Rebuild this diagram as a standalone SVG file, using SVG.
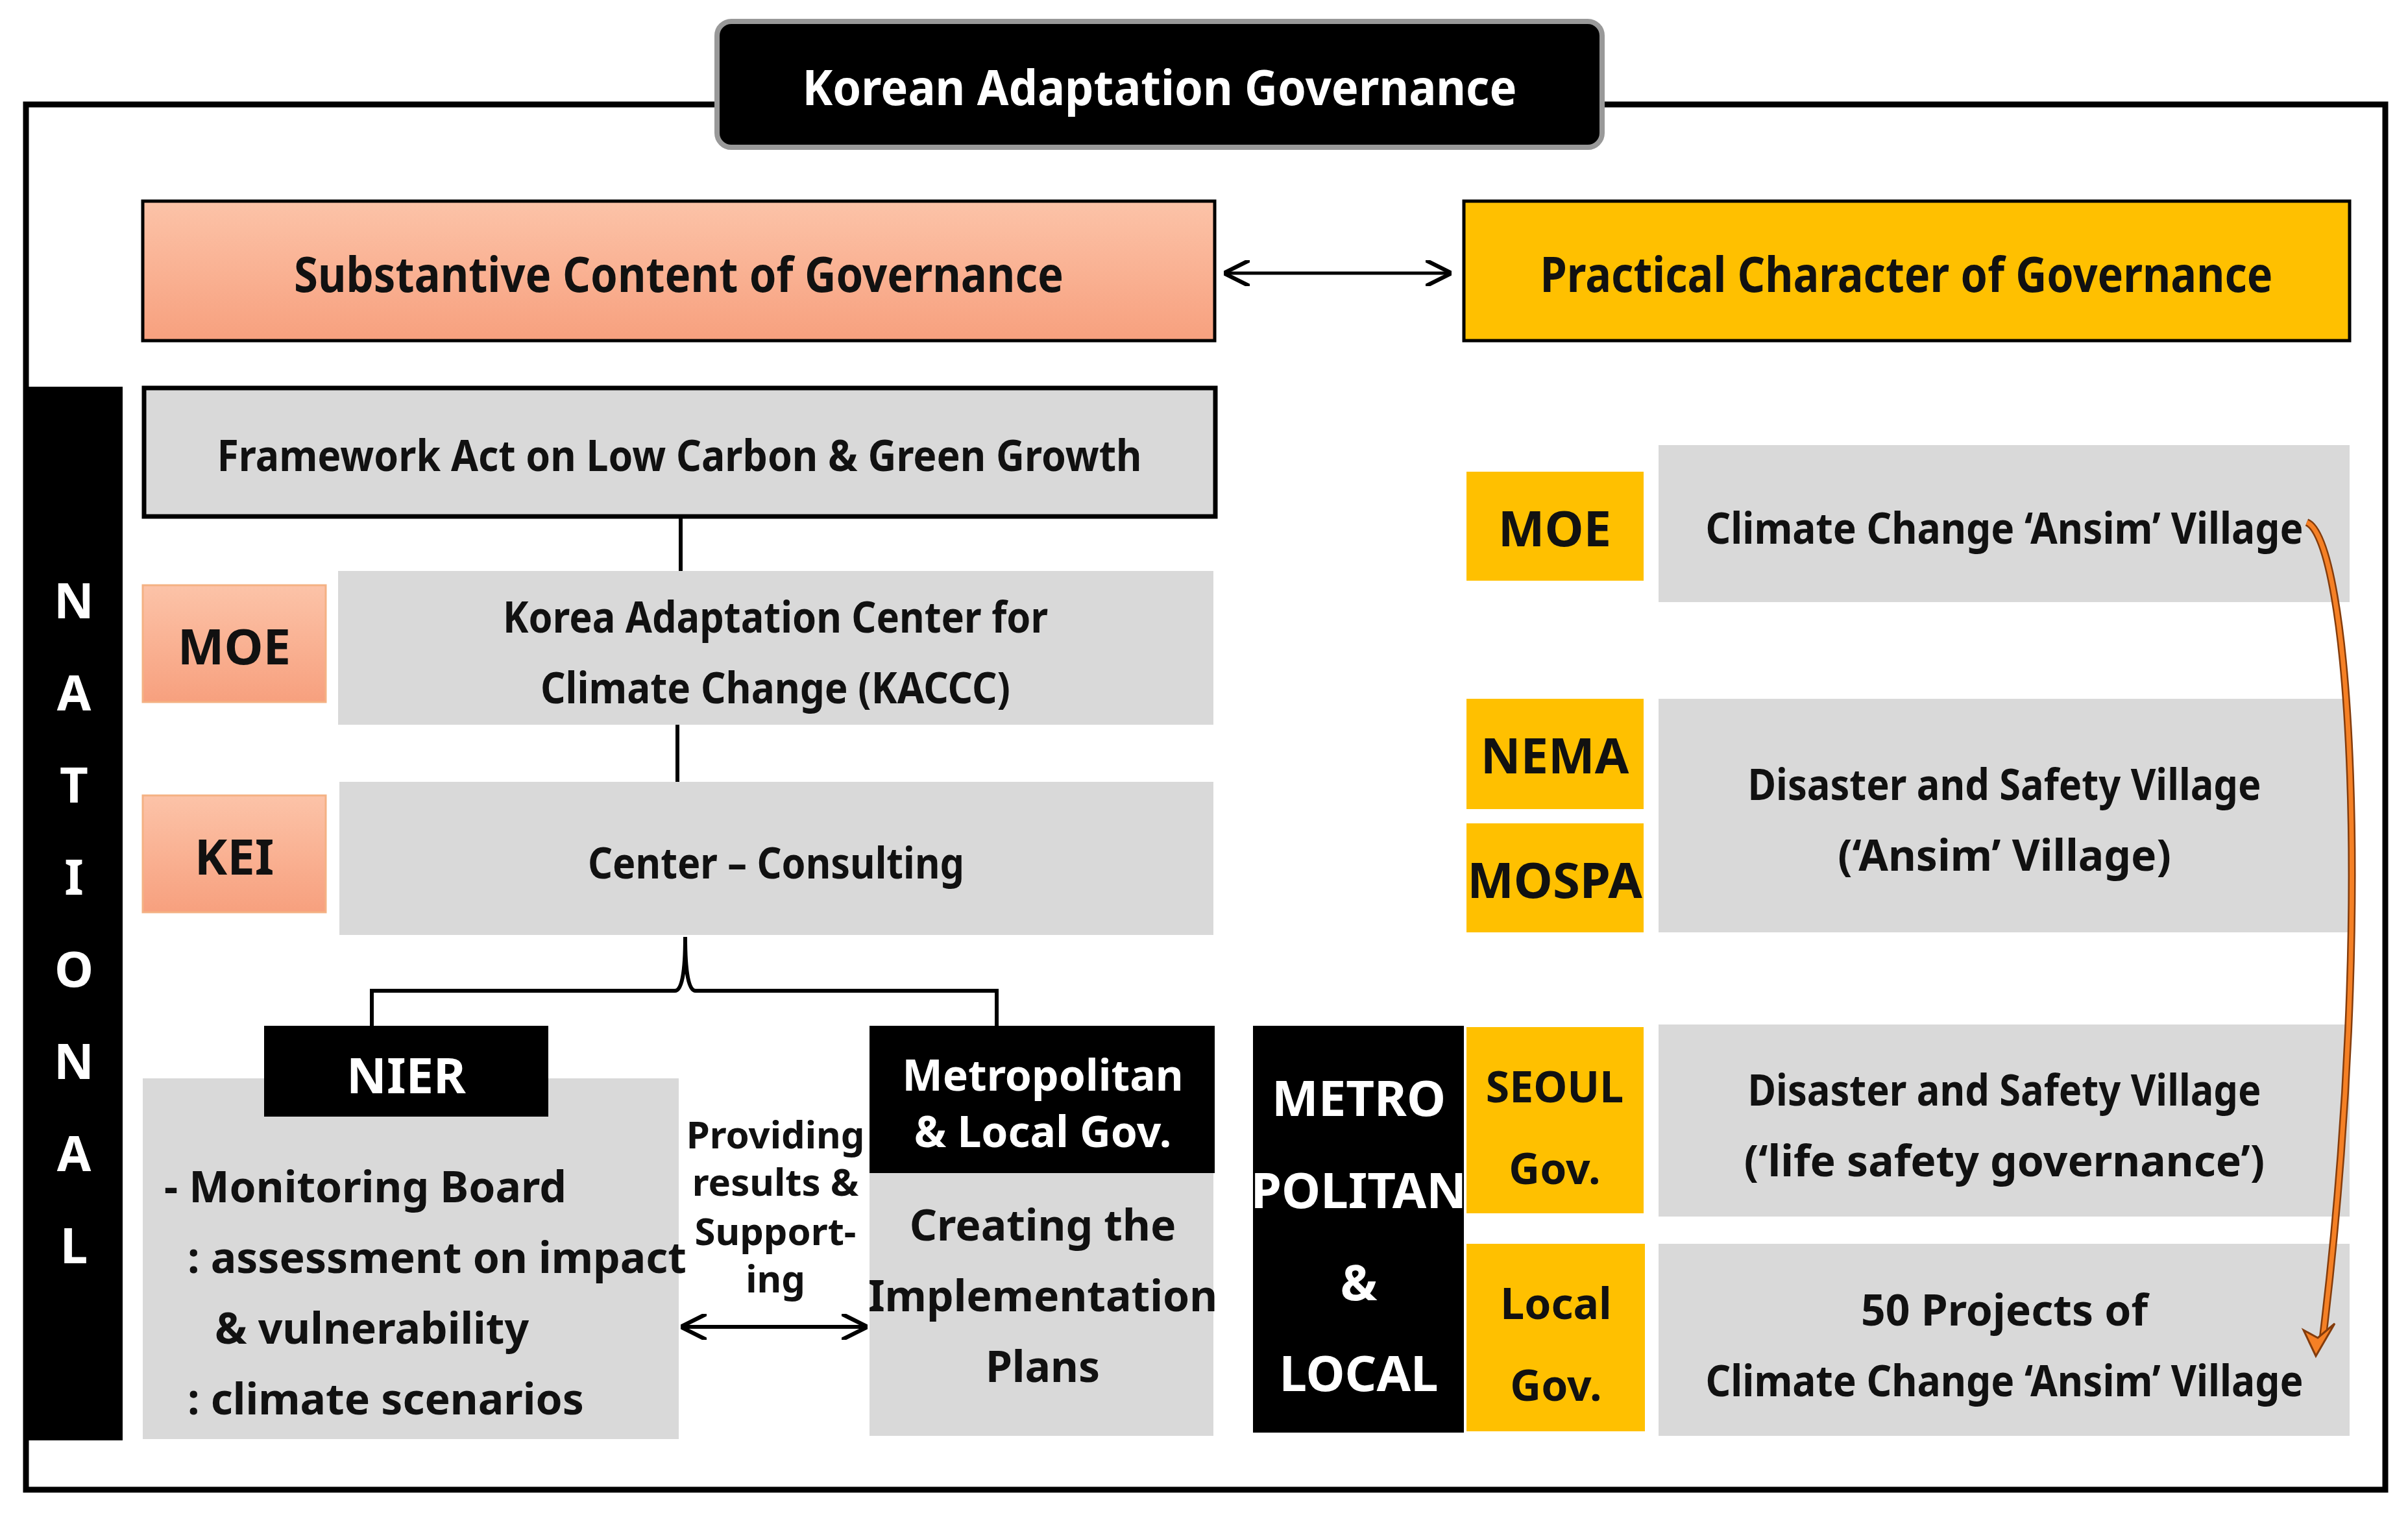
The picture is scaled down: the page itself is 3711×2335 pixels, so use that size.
<svg xmlns="http://www.w3.org/2000/svg" width="3711" height="2335" viewBox="0 0 3711 2335">
<defs>
<linearGradient id="sal" x1="0" y1="0" x2="0" y2="1"><stop offset="0" stop-color="#fcc3a8"/><stop offset="1" stop-color="#f7a07e"/></linearGradient>
<marker id="ah" viewBox="0 0 10 10" refX="9" refY="5" markerWidth="7" markerHeight="7" orient="auto-start-reverse" markerUnits="userSpaceOnUse"><path d="M0,0 L10,5 L0,10" fill="none" stroke="#000" stroke-width="2"/></marker>
<marker id="ah2" viewBox="0 0 10 10" refX="9" refY="5" markerWidth="40" markerHeight="40" orient="auto-start-reverse" markerUnits="userSpaceOnUse"><path d="M0,0 L10,5 L0,10" fill="none" stroke="#000" stroke-width="1.6"/></marker>
</defs>
<style>
text{font-family:"Noto Sans","Liberation Sans",sans-serif;font-weight:bold;text-anchor:middle;dominant-baseline:central;fill:#111}
.w{fill:#fff}
.g{fill:#d9d9d9}
.y{fill:#ffc000}
.s{fill:url(#sal);stroke:#f4b183;stroke-width:3}
.b{fill:#000}
.h{font-size:76px}
.t{font-size:66px}
.c{stroke:#000;stroke-width:6;fill:none}
</style>
<rect width="3711" height="2335" fill="#fff"/>
<rect x="40" y="161" width="3636" height="2135" fill="none" stroke="#000" stroke-width="9"/>
<g id="title"><rect x="1105" y="33" width="1364" height="194" rx="22" fill="#000" stroke="#999" stroke-width="8"/><text x="1787" y="132" class="h w" textLength="1101" lengthAdjust="spacingAndGlyphs">Korean Adaptation Governance</text></g>
<g id="substantive"><rect x="220" y="310" width="1652" height="215" fill="url(#sal)" stroke="#000" stroke-width="5"/><text x="1046" y="420" class="h" textLength="1186" lengthAdjust="spacingAndGlyphs">Substantive Content of Governance</text></g>
<g id="practical"><rect x="2256" y="310" width="1365" height="215" fill="#ffc000" stroke="#000" stroke-width="5"/><text x="2938" y="420" class="h" textLength="1129" lengthAdjust="spacingAndGlyphs">Practical Character of Governance</text></g>
<g id="national"><rect x="40" y="596" width="149" height="1624" class="b"/>
<text x="114" y="923" class="h w">N</text><text x="114" y="1065" class="h w">A</text><text x="114" y="1207" class="h w">T</text><text x="114" y="1349" class="h w">I</text><text x="114" y="1491" class="h w">O</text><text x="114" y="1633" class="h w">N</text><text x="114" y="1775" class="h w">A</text><text x="114" y="1917" class="h w">L</text></g>
<g id="framework"><rect x="222" y="598" width="1651" height="198" class="g" stroke="#000" stroke-width="7"/><text x="1047" y="700" class="t" textLength="1425" lengthAdjust="spacingAndGlyphs">Framework Act on Low Carbon &amp; Green Growth</text></g>
<g id="moe1"><rect x="220" y="902" width="282" height="180" class="s"/><text x="361" y="994" class="h">MOE</text></g>
<g id="kaccc"><rect x="521" y="880" width="1349" height="237" class="g"/><text x="1195" y="949" class="t" textLength="840" lengthAdjust="spacingAndGlyphs">Korea Adaptation Center for</text><text x="1195" y="1058" class="t" textLength="724" lengthAdjust="spacingAndGlyphs">Climate Change (KACCC)</text></g>
<g id="kei"><rect x="220" y="1226" width="282" height="180" class="s"/><text x="361" y="1318" class="h">KEI</text></g>
<g id="center"><rect x="523" y="1205" width="1347" height="236" class="g"/><text x="1196" y="1328" class="t" textLength="580" lengthAdjust="spacingAndGlyphs">Center – Consulting</text></g>
<g id="nier"><rect x="220" y="1662" width="826" height="556" class="g"/><rect x="407" y="1581" width="438" height="140" class="b"/><text x="626" y="1655" class="h w">NIER</text>
<g style="text-anchor:start"><text x="253" y="1827" class="t" style="text-anchor:start">-    Monitoring Board</text><text x="289" y="1936" class="t" style="text-anchor:start">: assessment on impact</text><text x="331" y="2045" class="t" style="text-anchor:start">&amp; vulnerability</text><text x="289" y="2154" class="t" style="text-anchor:start">: climate scenarios</text></g></g>
<g id="metrolocal"><rect x="1340" y="1808" width="530" height="405" class="g"/><rect x="1340" y="1581" width="532" height="227" class="b"/><text x="1607" y="1655" class="t w">Metropolitan</text><text x="1607" y="1742" class="t w">&amp; Local Gov.</text>
<text x="1607" y="1886" class="t">Creating the</text><text x="1607" y="1995" class="t">Implementation</text><text x="1607" y="2104" class="t">Plans</text></g>
<g id="providing"><text x="1195" y="1747" font-size="58">Providing</text><text x="1195" y="1820" font-size="58">results &amp;</text><text x="1195" y="1896" font-size="58">Support-</text><text x="1195" y="1969" font-size="58">ing</text></g>
<g id="moe2"><rect x="2260" y="727" width="273" height="168" class="y"/><text x="2396" y="812" class="h">MOE</text></g>
<g id="ansim"><rect x="2556" y="686" width="1065" height="242" class="g"/><text x="3089" y="812" class="t" textLength="921" lengthAdjust="spacingAndGlyphs">Climate Change ‘Ansim’ Village</text></g>
<g id="nema"><rect x="2260" y="1077" width="273" height="170" class="y"/><text x="2396" y="1162" class="h">NEMA</text></g>
<g id="mospa"><rect x="2260" y="1269" width="273" height="168" class="y"/><text x="2396" y="1354" class="h">MOSPA</text></g>
<g id="disaster1"><rect x="2556" y="1077" width="1065" height="360" class="g"/><text x="3089" y="1207" class="t" textLength="791" lengthAdjust="spacingAndGlyphs">Disaster and Safety Village</text><text x="3089" y="1316" class="t">(‘Ansim’ Village)</text></g>
<g id="metro"><rect x="1931" y="1581" width="325" height="627" class="b"/><text x="2094" y="1690" class="h w">METRO</text><text x="2094" y="1832" class="h w">POLITAN</text><text x="2094" y="1974" class="h w">&amp;</text><text x="2094" y="2114" class="h w">LOCAL</text></g>
<g id="seoul"><rect x="2260" y="1583" width="273" height="287" class="y"/><text x="2396" y="1673" class="t">SEOUL</text><text x="2396" y="1799" class="t">Gov.</text></g>
<g id="local"><rect x="2260" y="1917" width="275" height="289" class="y"/><text x="2398" y="2007" class="t">Local</text><text x="2398" y="2133" class="t">Gov.</text></g>
<g id="disaster2"><rect x="2556" y="1579" width="1065" height="296" class="g"/><text x="3089" y="1678" class="t" textLength="791" lengthAdjust="spacingAndGlyphs">Disaster and Safety Village</text><text x="3089" y="1787" class="t">(‘life safety governance’)</text></g>
<g id="projects"><rect x="2556" y="1917" width="1065" height="296" class="g"/><text x="3089" y="2017" class="t">50 Projects of</text><text x="3089" y="2126" class="t" textLength="921" lengthAdjust="spacingAndGlyphs">Climate Change ‘Ansim’ Village</text></g>
<g id="connectors">
<line x1="1890" y1="421" x2="2233" y2="421" stroke="#000" stroke-width="5" marker-start="url(#ah2)" marker-end="url(#ah2)"/>
<line x1="1049" y1="798" x2="1049" y2="880" class="c"/>
<line x1="1044" y1="1117" x2="1044" y2="1205" class="c"/>
<path d="M1056,1444 Q1056,1527 1040,1527 L573,1527 L573,1581 M1056,1444 Q1056,1527 1072,1527 L1536,1527 L1536,1581" class="c"/>
<line x1="1053" y1="2045" x2="1333" y2="2045" stroke="#000" stroke-width="6" marker-start="url(#ah2)" marker-end="url(#ah2)"/>
<path d="M3555,805 C3620,830 3660,1400 3580,2060" fill="none" stroke="#843c0c" stroke-width="12"/>
<path d="M3555,805 C3620,830 3660,1400 3580,2060" fill="none" stroke="#f58025" stroke-width="7"/>
<polygon points="3569,2090 3550,2050 3572,2062 3598,2040" fill="#f58025" stroke="#843c0c" stroke-width="3"/>
</g>
</svg>
